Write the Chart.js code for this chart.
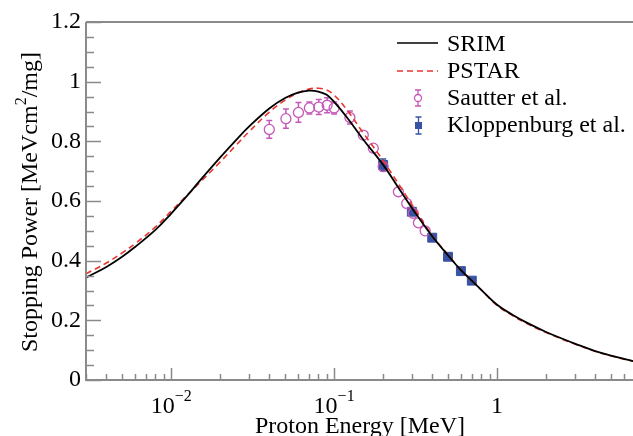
<!DOCTYPE html>
<html lang="en">
<head>
<meta charset="UTF-8">
<title>Stopping Power</title>
<script src="https://cdn.jsdelivr.net/npm/chart.js"></script>
<style>
  body { margin: 0; background: #fff; }
  #wrap { width: 633px; height: 436px; }
</style>
</head>
<body>
<div id="wrap"><canvas id="myChart" width="633" height="436"></canvas></div>
<script>
// proton energy grid for the two calculated curves (MeV)
const curveE = [0.003, 0.004, 0.005, 0.006, 0.008, 0.010, 0.0125, 0.015, 0.020, 0.025, 0.030, 0.040, 0.050, 0.060, 0.070, 0.080, 0.090, 0.100, 0.120, 0.150, 0.200, 0.250, 0.300, 0.400, 0.500, 0.600, 0.700, 0.800, 1.00, 1.25, 1.50, 2.00, 2.50, 3.00, 4.00, 5.00, 6.00, 7.00];
// SRIM stopping power (MeV cm^2/mg)
const srimS = [0.343, 0.379, 0.413, 0.446, 0.503, 0.558, 0.617, 0.668, 0.746, 0.804, 0.849, 0.910, 0.945, 0.963, 0.970, 0.967, 0.956, 0.932, 0.880, 0.808, 0.721, 0.642, 0.577, 0.482, 0.418, 0.368, 0.333, 0.302, 0.252, 0.218, 0.194, 0.161, 0.139, 0.122, 0.097, 0.082, 0.071, 0.062];
// PSTAR stopping power
const pstarS = [0.356, 0.392, 0.426, 0.457, 0.513, 0.566, 0.619, 0.662, 0.731, 0.787, 0.832, 0.898, 0.938, 0.962, 0.975, 0.978, 0.972, 0.955, 0.905, 0.830, 0.735, 0.655, 0.588, 0.484, 0.420, 0.369, 0.334, 0.302, 0.250, 0.215, 0.191, 0.159, 0.137, 0.121, 0.096, 0.081, 0.070, 0.062];

// Sautter et al. measurements
const sautterE = [0.040, 0.0506, 0.0604, 0.0705, 0.0805, 0.0906, 0.100, 0.125, 0.151, 0.174, 0.200, 0.248, 0.279, 0.306, 0.329, 0.362];
const sautterS = [0.840, 0.876, 0.897, 0.912, 0.915, 0.921, 0.912, 0.880, 0.821, 0.777, 0.715, 0.631, 0.592, 0.559, 0.527, 0.500];
const sautterErr = [0.030, 0.032, 0.033, 0.020, 0.025, 0.025, 0.020, 0.022, 0.012, 0.010, 0.010, 0.010, 0.010, 0.010, 0.010, 0.010];

// Kloppenburg et al. measurements
const kloppE = [0.200, 0.300, 0.400, 0.500, 0.600, 0.700];
const kloppS = [0.721, 0.564, 0.477, 0.413, 0.365, 0.333];
const kloppErr = [0.020, 0.015, 0.012, 0.010, 0.010, 0.010];

// axis ticks
const yTickValues = [0, 0.2, 0.4, 0.6, 0.8, 1.0, 1.2];
const yTickLabels = ['0', '0.2', '0.4', '0.6', '0.8', '1', '1.2'];
const xTickValues = [0.01, 0.1, 1];
const xTickLabels = [['10', '\u22122'], ['10', '\u22121'], ['1', '']];

const AXIS = '#8a8a8a';
const FONT = '"Liberation Serif", "Times New Roman", serif';
const SAUTTER_COL = '#c558b8';
const KLOPP_COL = '#3853a3';

function toPts(xs, ys) {
    return xs.map((x, i) => ({ x: x, y: ys[i] }));
}

// error bars, drawn from the marker edge outward
function drawErrors(ctx, xs, ys, errs, r, color, xScale, yScale) {
    ctx.strokeStyle = color;
    ctx.lineWidth = 1.5;
    xs.forEach((x, i) => {
        let px = xScale.getPixelForValue(x);
        let py = yScale.getPixelForValue(ys[i]);
        let top = yScale.getPixelForValue(ys[i] + errs[i]);
        let bot = yScale.getPixelForValue(ys[i] - errs[i]);
        ctx.beginPath();
        if (top < py - r) { ctx.moveTo(px, py - r); ctx.lineTo(px, top); ctx.moveTo(px - 3, top); ctx.lineTo(px + 3, top); }
        if (bot > py + r) { ctx.moveTo(px, py + r); ctx.lineTo(px, bot); ctx.moveTo(px - 3, bot); ctx.lineTo(px + 3, bot); }
        ctx.stroke();
    });
}

const decorPlugin = {
    id: 'decor',
    beforeDatasetsDraw(chart) {
        const ctx = chart.ctx;
        const xs = chart.scales.x, ys = chart.scales.y;
        ctx.save();
        drawErrors(ctx, sautterE, sautterS, sautterErr, 5, SAUTTER_COL, xs, ys);
        drawErrors(ctx, kloppE, kloppS, kloppErr, 4.5, KLOPP_COL, xs, ys);
        ctx.restore();
    },
    afterDraw(chart) {
        const ctx = chart.ctx;
        const a = chart.chartArea;
        const xs = chart.scales.x, ys = chart.scales.y;
        ctx.save();

        // frame
        ctx.strokeStyle = AXIS;
        ctx.lineWidth = 2;
        ctx.beginPath();
        ctx.moveTo(a.left, a.top); ctx.lineTo(a.right, a.top);
        ctx.moveTo(a.left, a.top); ctx.lineTo(a.left, a.bottom); ctx.lineTo(a.right, a.bottom);
        ctx.stroke();

        // y ticks (inside)
        ctx.lineWidth = 1.5;
        ctx.beginPath();
        for (let k = 0; k <= 24; k++) {
            let v = k * 0.05;
            let py = Math.round(ys.getPixelForValue(v)) + 0.5;
            let len = (k % 4 === 0) ? 15 : 8;
            ctx.moveTo(a.left, py); ctx.lineTo(a.left + len, py);
        }
        // x ticks (inside)
        for (let d = -3; d <= 0; d++) {
            for (let m = 1; m <= 9; m++) {
                let v = m * Math.pow(10, d);
                if (v < xs.min || v > xs.max) continue;
                let px = Math.round(xs.getPixelForValue(v)) + 0.5;
                let len = (m === 1) ? 12 : 6;
                ctx.moveTo(px, a.bottom); ctx.lineTo(px, a.bottom - len);
            }
        }
        ctx.stroke();

        // y tick labels
        ctx.fillStyle = '#000';
        ctx.font = '24px ' + FONT;
        ctx.textAlign = 'right';
        ctx.textBaseline = 'middle';
        yTickValues.forEach((v, i) => {
            ctx.fillText(yTickLabels[i], 81, ys.getPixelForValue(v));
        });

        // x tick labels with superscripts
        ctx.textBaseline = 'alphabetic';
        ctx.textAlign = 'left';
        xTickValues.forEach((v, i) => {
            let px = xs.getPixelForValue(v);
            let base = xTickLabels[i][0], sup = xTickLabels[i][1];
            ctx.font = '24px ' + FONT;
            let wb = ctx.measureText(base).width;
            ctx.font = '16px ' + FONT;
            let ws = ctx.measureText(sup).width;
            let x0 = px - (wb + ws) / 2;
            ctx.font = '24px ' + FONT;
            ctx.fillText(base, x0, 413);
            ctx.font = '16px ' + FONT;
            ctx.fillText(sup, x0 + wb, 401);
        });

        // x title
        ctx.font = '24px ' + FONT;
        ctx.textAlign = 'center';
        ctx.fillText('Proton Energy [MeV]', 360, 433);

        // y title, rotated, with superscript 2
        ctx.translate(37, 202);
        ctx.rotate(-Math.PI / 2);
        const t1 = 'Stopping Power [MeVcm', t2 = '2', t3 = '/mg]';
        ctx.font = '24px ' + FONT;
        let w1 = ctx.measureText(t1).width, w3 = ctx.measureText(t3).width;
        ctx.font = '16px ' + FONT;
        let w2 = ctx.measureText(t2).width;
        let sx = -(w1 + w2 + w3) / 2;
        ctx.textAlign = 'left';
        ctx.font = '24px ' + FONT;
        ctx.fillText(t1, sx, 0);
        ctx.font = '16px ' + FONT;
        ctx.fillText(t2, sx + w1, -11);
        ctx.font = '24px ' + FONT;
        ctx.fillText(t3, sx + w1 + w2, 0);
        ctx.restore();

        // legend
        ctx.save();
        ctx.font = '24px ' + FONT;
        ctx.textAlign = 'left';
        ctx.textBaseline = 'middle';
        ctx.fillStyle = '#000';
        const tx = 447;
        // SRIM
        ctx.strokeStyle = '#000'; ctx.lineWidth = 1.6;
        ctx.beginPath(); ctx.moveTo(397, 43); ctx.lineTo(438, 43); ctx.stroke();
        ctx.fillText('SRIM', tx, 45);
        // PSTAR
        ctx.strokeStyle = '#e8352e'; ctx.setLineDash([6, 4]);
        ctx.beginPath(); ctx.moveTo(397, 71); ctx.lineTo(438, 71); ctx.stroke();
        ctx.setLineDash([]);
        ctx.fillText('PSTAR', tx, 72);
        // Sautter
        ctx.strokeStyle = SAUTTER_COL; ctx.lineWidth = 1.3;
        ctx.beginPath(); ctx.arc(418, 98, 3.5, 0, Math.PI * 2); ctx.stroke();
        ctx.beginPath();
        ctx.moveTo(418, 94.5); ctx.lineTo(418, 90); ctx.moveTo(415, 90); ctx.lineTo(421, 90);
        ctx.moveTo(418, 101.5); ctx.lineTo(418, 106); ctx.moveTo(415, 106); ctx.lineTo(421, 106);
        ctx.stroke();
        ctx.fillText('Sautter et al.', tx, 99);
        // Kloppenburg
        ctx.fillStyle = KLOPP_COL; ctx.strokeStyle = KLOPP_COL;
        ctx.fillRect(415, 122, 7, 7);
        ctx.beginPath();
        ctx.moveTo(418.5, 122); ctx.lineTo(418.5, 117); ctx.moveTo(415.5, 117); ctx.lineTo(421.5, 117);
        ctx.moveTo(418.5, 129); ctx.lineTo(418.5, 134); ctx.moveTo(415.5, 134); ctx.lineTo(421.5, 134);
        ctx.stroke();
        ctx.fillStyle = '#000';
        ctx.fillText('Kloppenburg et al.', tx, 126);
        ctx.restore();
    }
};

const ctx = document.getElementById('myChart').getContext('2d');
const myChart = new Chart(ctx, {
    type: 'scatter',
    data: {
        datasets: [
            {
                label: 'SRIM',
                data: toPts(curveE, srimS),
                showLine: true,
                borderColor: '#000',
                borderWidth: 1.8,
                pointRadius: 0,
                tension: 0.4
            },
            {
                label: 'PSTAR',
                data: toPts(curveE, pstarS),
                showLine: true,
                borderColor: '#e8352e',
                borderDash: [6, 4],
                borderWidth: 1.6,
                pointRadius: 0,
                tension: 0.4
            },
            {
                label: 'Sautter et al.',
                data: toPts(sautterE, sautterS),
                pointStyle: 'circle',
                pointRadius: 5,
                borderWidth: 1.3,
                borderColor: SAUTTER_COL,
                backgroundColor: 'rgba(0,0,0,0)'
            },
            {
                label: 'Kloppenburg et al.',
                data: toPts(kloppE, kloppS),
                pointStyle: 'rect',
                pointRadius: 6.3,
                borderWidth: 1,
                borderColor: KLOPP_COL,
                backgroundColor: KLOPP_COL
            }
        ]
    },
    options: {
        responsive: false,
        animation: false,
        layout: { autoPadding: false, padding: { left: 86, top: 22, right: 0, bottom: 56 } },
        plugins: { legend: { display: false }, tooltip: { enabled: false } },
        scales: {
            x: { type: 'logarithmic', min: 0.003, max: 6.83, display: false },
            y: { type: 'linear', min: 0, max: 1.2, display: false }
        }
    },
    plugins: [decorPlugin]
});
</script>
</body>
</html>
